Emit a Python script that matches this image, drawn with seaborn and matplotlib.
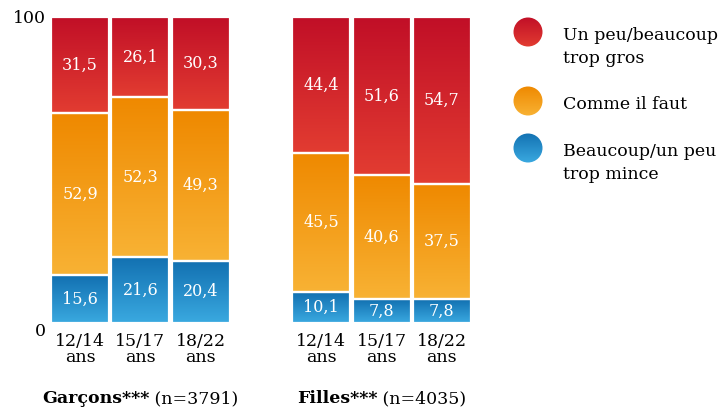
import numpy as np
import pandas as pd
import matplotlib
matplotlib.use("Agg")
import matplotlib.pyplot as plt
import seaborn as sns
from matplotlib.colors import to_rgb
from matplotlib.patches import Circle

# ---- data ----
groups = ["Garçons", "Filles"]
group_n = ["(n=3791)", "(n=4035)"]
ages = ["12/14\nans", "15/17\nans", "18/22\nans"]
series = ["Un peu/beaucoup\ntrop gros", "Comme il faut", "Beaucoup/un peu\ntrop mince"]
gros = [31.5, 26.1, 30.3, 44.4, 51.6, 54.7]
comme = [52.9, 52.3, 49.3, 45.5, 40.6, 37.5]
mince = [15.6, 21.6, 20.4, 10.1, 7.8, 7.8]

# gradient colours (top -> bottom) per series
grads = [("#c10f27", "#e23c31"), ("#ef8900", "#f8b234"), ("#1270b1", "#3aa9e0")]

slots = ["G1", "G2", "G3", "gap", "F1", "F2", "F3"]
bar_keys = ["G1", "G2", "G3", "F1", "F2", "F3"]

rows = []
for i, k in enumerate(bar_keys):
    rows.append({"bar": k, "serie": 0, "val": gros[i], "bottom": comme[i] + mince[i]})
    rows.append({"bar": k, "serie": 1, "val": comme[i], "bottom": mince[i]})
    rows.append({"bar": k, "serie": 2, "val": mince[i], "bottom": 0.0})
df = pd.DataFrame(rows)


def gradient(s):
    c0, c1 = np.array(to_rgb(grads[s][0])), np.array(to_rgb(grads[s][1]))
    t = np.linspace(0, 1, 64)[:, None]
    return (c0 * (1 - t) + c1 * t)[:, None, :]


plt.rcParams["font.family"] = ["DejaVu Serif"]
fig = plt.figure(figsize=(7.24, 4.12), dpi=100)
ax = fig.add_axes([0.069, 0.216, 0.583, 0.743])

W = 0.96
for s in range(3):
    sub = df[df["serie"] == s].reset_index(drop=True)
    n_before = len(ax.patches)
    sns.barplot(data=sub, x="bar", y="val", order=slots, width=W,
                color=grads[s][0], ax=ax, errorbar=None)
    new = ax.patches[n_before:]
    for p in new:
        if np.isnan(p.get_height()):
            continue
        xc = p.get_x() + p.get_width() / 2
        key = slots[int(round(xc))]
        r = sub[sub["bar"] == key].iloc[0]
        p.set_y(r["bottom"])
        p.set_height(r["val"])
        # gradient fill, dark on top
        im = ax.imshow(gradient(s), extent=[p.get_x(), p.get_x() + p.get_width(),
                                            r["bottom"], r["bottom"] + r["val"]],
                       aspect="auto", origin="upper", zorder=1, interpolation="bilinear")
        im.set_clip_path(p)
        p.set_facecolor("none")
        p.set_edgecolor("white")
        p.set_linewidth(1.6)
        p.set_zorder(2)
        ax.text(xc, r["bottom"] + r["val"] / 2, f"{r['val']:.1f}".replace(".", ","),
                ha="center", va="center", color="white", fontsize=11.5, zorder=3)

ax.set_xlim(-0.5, 6.5)
ax.set_ylim(0, 100)
ax.set_yticks([0, 100])
ax.set_yticklabels(["0", "100"], fontsize=12.5)
ax.get_yticklabels()[0].set_va("top")
ax.set_xticks([0, 1, 2, 4, 5, 6])
ax.set_xticklabels(ages * 2, fontsize=12.5, linespacing=0.95)
ax.tick_params(length=0, pad=7)
ax.tick_params(axis="y", pad=3)
for sp in ax.spines.values():
    sp.set_visible(False)
ax.set_xlabel("")
ax.set_ylabel("")

# group captions: bold name + normal count, centred together
fig.canvas.draw()
rend = fig.canvas.get_renderer()
ycap = 0.022
for g, (name, nn) in enumerate(zip(groups, group_n)):
    center = 1 + 4 * g
    xc_fig = fig.transFigure.inverted().transform(ax.transData.transform((center, 0)))[0]
    t1 = fig.text(0, ycap, name + "***", fontsize=12.5, fontweight="bold", ha="left", va="baseline")
    t2 = fig.text(0, ycap, " " + nn, fontsize=12.5, ha="left", va="baseline")
    w1 = t1.get_window_extent(rend).width / fig.bbox.width
    w2 = t2.get_window_extent(rend).width / fig.bbox.width
    x0 = xc_fig - (w1 + w2) / 2
    t1.set_x(x0)
    t2.set_x(x0 + w1)

# legend in pixel coordinates
lax = fig.add_axes([0, 0, 1, 1], zorder=-1)
lax.set_xlim(0, 724)
lax.set_ylim(412, 0)
lax.axis("off")
leg_y = [32, 101, 148]
for s in range(3):
    circ = Circle((528, leg_y[s]), 14.5, facecolor="none", edgecolor="none")
    lax.add_patch(circ)
    im = lax.imshow(gradient(s), extent=[513, 543, leg_y[s] + 15, leg_y[s] - 15],
                    aspect="auto", origin="upper", interpolation="bilinear")
    im.set_clip_path(circ)
    lax.text(563, leg_y[s] - 5, series[s], ha="left", va="top", fontsize=12.5,
             linespacing=1.45)

fig.savefig("out.png", dpi=100)
